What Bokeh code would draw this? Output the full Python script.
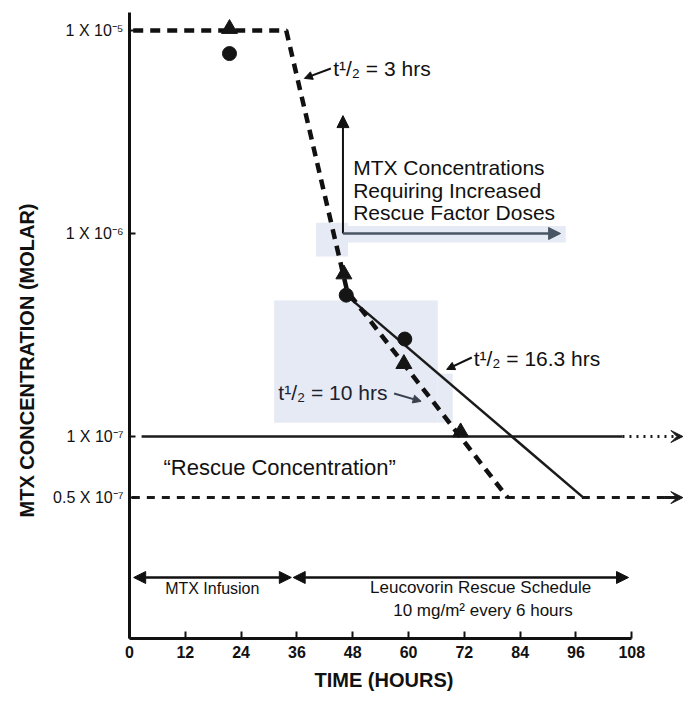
import math
from bokeh.plotting import figure
from bokeh.models import (Range1d, FixedTicker, CustomJSTickFormatter, Label, Arrow,
                          VeeHead, NormalHead, BoxAnnotation, Title)
from bokeh.embed import file_html
from bokeh.resources import INLINE

# ---------------- data ----------------
tri_time = [21.5, 46.1, 59.0, 71.2]
tri_conc = [1.02e-5, 6.3e-7, 2.28e-7, 1.05e-7]
circ_time = [21.5, 46.6, 59.2]
circ_conc = [7.7e-6, 4.97e-7, 3.02e-7]

# 3 hr then 10 hr half-life (heavy dashed)
fast_time = [0.8, 33.7, 46.8, 81.3]
fast_conc = [1e-5, 1e-5, 5.2e-7, 5e-8]
# 16.3 hr half-life (solid)
slow_time = [46.6, 97.6]
slow_conc = [4.97e-7, 5e-8]

rescue_level = 1e-7
rescue_time = [2.6, 106.0, 119.0]
floor_level = 5e-8
floor_time = [0.5, 119.0]

x_ticks = [0, 12, 24, 36, 48, 60, 72, 84, 96, 108]
y_ticks = [1e-5, 1e-6, 1e-7, 5e-8]
y_tick_labels = ["1 X 10\u207b\u2075", "1 X 10\u207b\u2076", "1 X 10\u207b\u2077", "0.5 X 10\u207b\u2077"]

FONT = "Liberation Sans"
INK = "#111111"

p = figure(width=688, height=701, output_backend="svg", toolbar_location=None,
           y_axis_type="log",
           x_range=Range1d(0, 120.2), y_range=Range1d(1.011e-8, 1.227e-5),
           min_border_left=128, min_border_right=0, min_border_top=12, min_border_bottom=63)
p.outline_line_color = None
p.xgrid.visible = False
p.ygrid.visible = False
p.background_fill_color = "white"

# ---------------- axes ----------------
p.xaxis.ticker = FixedTicker(ticks=x_ticks)
p.xaxis.bounds = (0, 108)
p.xaxis.axis_line_width = 3
p.xaxis.axis_line_color = INK
p.xaxis.major_tick_in = 7
p.xaxis.major_tick_out = 0
p.xaxis.major_tick_line_width = 2
p.xaxis.major_tick_line_color = INK
p.xaxis.minor_tick_line_color = None
p.xaxis.major_label_text_font = FONT
p.xaxis.major_label_text_font_style = "bold"
p.xaxis.major_label_text_font_size = "16px"
p.xaxis.major_label_text_color = INK
p.xaxis.major_label_standoff = 7

p.yaxis.ticker = FixedTicker(ticks=y_ticks, minor_ticks=[])
p.yaxis.formatter = CustomJSTickFormatter(
    args=dict(vals=y_ticks, labs=y_tick_labels),
    code="const i = vals.findIndex(v => Math.abs(v - tick) <= 1e-3 * v); return i >= 0 ? labs[i] : '';")
p.yaxis.axis_line_width = 3
p.yaxis.axis_line_color = INK
p.yaxis.major_tick_in = 6
p.yaxis.major_tick_out = 0
p.yaxis.major_tick_line_width = 2
p.yaxis.major_tick_line_color = INK
p.yaxis.minor_tick_line_color = None
p.yaxis.major_label_text_font = FONT
p.yaxis.major_label_text_font_size = "16px"
p.yaxis.major_label_text_color = INK
p.yaxis.major_label_standoff = 6

# axis titles as side titles (placed along the frame with an offset)
p.add_layout(Title(text="MTX CONCENTRATION (MOLAR)", align="left", offset=121, standoff=26,
                   text_font=FONT, text_font_size="20px", text_font_style="bold", text_color=INK), "left")
p.add_layout(Title(text="TIME (HOURS)", align="left", offset=185, standoff=13,
                   text_font=FONT, text_font_size="20px", text_font_style="bold", text_color=INK), "below")

# ---------------- light highlight patches ----------------
HL = "#e6eaf4"
for l, r, b, t in [(31.1, 66.3, 1.17e-7, 4.68e-7), (66.3, 69.5, 1.17e-7, 2.04e-7),
                   (40.1, 93.8, 9.04e-7, 1.09e-6), (40.1, 47.0, 7.71e-7, 1.13e-6)]:
    p.add_layout(BoxAnnotation(left=l, right=r, bottom=b, top=t, fill_color=HL, fill_alpha=1.0,
                               line_color=None, level="underlay"))

# ---------------- lines ----------------
p.line(rescue_time[:2], [rescue_level, rescue_level], line_color="#1a1a1a", line_width=2.5)
p.line(floor_time, [floor_level, floor_level], line_color="#1a1a1a", line_width=3, line_dash="8 7")
p.line(slow_time, slow_conc, line_color="#1a1a1a", line_width=2.5)
p.line(fast_time, fast_conc, line_color="#111111", line_width=4.5, line_dash="10 7")

# arrow tails of the horizontal levels
p.add_layout(Arrow(x_start=rescue_time[1], y_start=rescue_level, x_end=rescue_time[2], y_end=rescue_level,
                   line_color="#1a1a1a", line_width=3, line_dash="2 5",
                   end=VeeHead(size=12, fill_color="#1a1a1a", line_color="#1a1a1a")))
p.add_layout(Arrow(x_start=floor_time[1] - 4, y_start=floor_level, x_end=floor_time[1], y_end=floor_level,
                   line_color="#1a1a1a", line_width=3,
                   end=VeeHead(size=12, fill_color="#1a1a1a", line_color="#1a1a1a")))

# ---------------- markers ----------------
p.scatter(tri_time, tri_conc, marker="triangle", size=16, fill_color="#151515", line_color="#151515")
p.scatter(circ_time, circ_conc, marker="circle", size=14, fill_color="#151515", line_color="#151515")

# ---------------- annotation arrows ----------------
def arrow(x0, y0, x1, y1, color=INK, width=2.0, head=9, both=False):
    kw = dict(size=head, fill_color=color, line_color=color)
    p.add_layout(Arrow(x_start=x0, y_start=y0, x_end=x1, y_end=y1, line_color=color, line_width=width,
                       end=NormalHead(**kw), start=NormalHead(**kw) if both else None))

arrow(45.9, 1e-6, 45.9, 3.81e-6, width=2, head=12)                  # up
arrow(45.9, 1e-6, 92.7, 1e-6, color="#4a5563", width=2.5, head=12)  # right
arrow(43.3, 6.5e-6, 37.6, 5.81e-6, width=2, head=8)                 # 3 hrs
arrow(73.6, 2.45e-7, 68.2, 2.14e-7, width=2, head=8)                # 16.3 hrs
arrow(56.9, 1.63e-7, 62.7, 1.49e-7, color="#3a4250", width=2, head=8)  # 10 hrs
arrow(0.9, 2.02e-8, 34.8, 2.02e-8, width=2.5, head=12, both=True)   # infusion
arrow(35.2, 2.02e-8, 107.3, 2.02e-8, width=2.5, head=12, both=True)  # leucovorin

# ---------------- texts ----------------
def label(x, y, text, size, align="left", style="normal", color=INK):
    p.add_layout(Label(x=x, y=y, text=text, text_font=FONT, text_font_size=f"{size}px",
                       text_font_style=style, text_color=color, text_align=align,
                       text_baseline="middle"))

label(43.8, 6.5e-6, "t\u00b9/\u2082 = 3 hrs", 21)
label(74.0, 2.42e-7, "t\u00b9/\u2082 = 16.3 hrs", 21)
label(32.0, 1.65e-7, "t\u00b9/\u2082 = 10 hrs", 21, color="#1c2230")
label(48.1, 2.11e-6, "MTX Concentrations", 21)
label(48.1, 1.63e-6, "Requiring Increased", 21)
label(48.1, 1.27e-6, "Rescue Factor Doses", 21)
label(7.3, 7.03e-8, "\u201cRescue Concentration\u201d", 22)
label(17.8, 1.78e-8, "MTX Infusion", 16, align="center")
label(75.5, 1.80e-8, "Leucovorin Rescue Schedule", 17, align="center")
label(76.0, 1.39e-8, "10 mg/m\u00b2 every 6 hours", 17, align="center")

open("out.html", "w").write(file_html(p, INLINE))
